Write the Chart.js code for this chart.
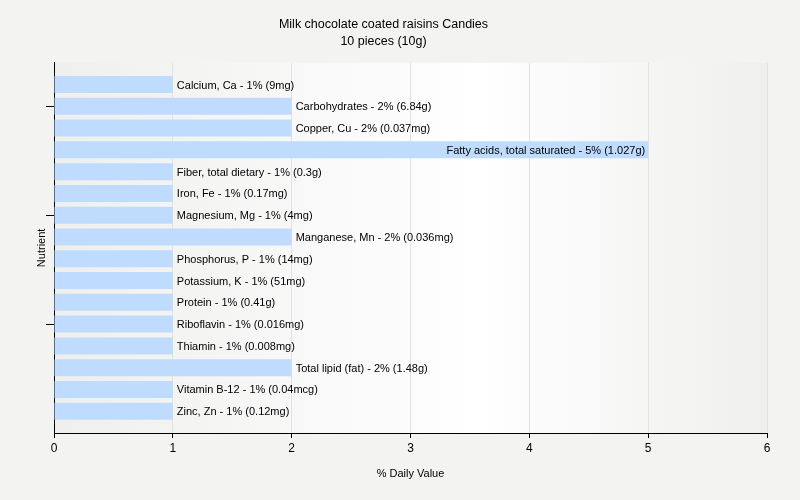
<!DOCTYPE html>
<html>
<head>
<meta charset="utf-8">
<script src="https://cdn.jsdelivr.net/npm/chart.js@4/dist/chart.umd.min.js"></script>
<style>
html,body{margin:0;padding:0;background:#f3f3f2;}
#wrap{width:800px;height:500px;}
</style>
</head>
<body>
<div id="wrap"><canvas id="c" width="800" height="500"></canvas></div>
<script>
const categories = ["Calcium, Ca","Carbohydrates","Copper, Cu","Fatty acids, total saturated","Fiber, total dietary","Iron, Fe","Magnesium, Mg","Manganese, Mn","Phosphorus, P","Potassium, K","Protein","Riboflavin","Thiamin","Total lipid (fat)","Vitamin B-12","Zinc, Zn"];
const values = [1,2,2,5,1,1,1,2,1,1,1,1,1,2,1,1];
const amounts = ["9mg","6.84g","0.037mg","1.027g","0.3g","0.17mg","4mg","0.036mg","14mg","51mg","0.41g","0.016mg","0.008mg","1.48g","0.04mcg","0.12mg"];
const xTicks = [0,1,2,3,4,5,6];
const titleLines = ["Milk chocolate coated raisins Candies","10 pieces (10g)"];

const FONT = "'Liberation Sans', Arial, sans-serif";
Chart.defaults.font.family = FONT;
Chart.defaults.color = "#000";

const bgPlugin = {
  id: 'bg',
  beforeDraw(chart) {
    const {ctx, chartArea: a} = chart;
    ctx.save();
    ctx.fillStyle = '#f3f3f2';
    ctx.fillRect(0, 0, chart.width, chart.height);
    const g = ctx.createLinearGradient(a.left, 0, a.right, 0);
    g.addColorStop(0, '#efefee');
    g.addColorStop(0.6, '#ffffff');
    g.addColorStop(1, '#efefee');
    ctx.fillStyle = g;
    ctx.fillRect(a.left, a.top, a.right - a.left, a.bottom - a.top);
    ctx.restore();
  }
};

const labelPlugin = {
  id: 'barLabels',
  afterDatasetsDraw(chart) {
    const {ctx, chartArea: a} = chart;
    const meta = chart.getDatasetMeta(0);
    ctx.save();
    ctx.font = "11px " + FONT;
    ctx.fillStyle = '#000';
    ctx.textBaseline = 'middle';
    meta.data.forEach((bar, i) => {
      const txt = categories[i] + " - " + values[i] + "% (" + amounts[i] + ")";
      const w = ctx.measureText(txt).width;
      if (bar.x + 4 + w > a.right) {
        ctx.textAlign = 'right';
        ctx.fillText(txt, bar.x - 3, bar.y + 1);
      } else {
        ctx.textAlign = 'left';
        ctx.fillText(txt, bar.x + 4, bar.y + 1);
      }
    });
    ctx.restore();
  }
};

new Chart(document.getElementById('c'), {
  type: 'bar',
  data: {
    labels: categories,
    datasets: [{
      data: values,
      backgroundColor: '#bfdcff',
      borderWidth: 0,
      categoryPercentage: 1.0,
      barPercentage: 0.78
    }]
  },
  options: {
    indexAxis: 'y',
    responsive: false,
    animation: false,
    layout: { padding: { left: 0, right: 33, top: 0, bottom: 0 } },
    plugins: {
      legend: { display: false },
      tooltip: { enabled: false },
      title: {
        display: true,
        text: titleLines,
        color: '#000',
        font: { size: 12.5, weight: 'normal', family: FONT, lineHeight: 1.35 },
        padding: { top: 16, bottom: 13 }
      }
    },
    scales: {
      x: {
        type: 'linear',
        min: 0, max: 6,
        afterBuildTicks(scale) { scale.ticks = xTicks.map(v => ({value: v})); },
        afterFit(scale) { scale.height = 67; },
        ticks: { font: { size: 12, family: FONT }, color: '#000', padding: 3 },
        grid: { color: '#e2e2e2', tickColor: '#000', tickLength: 5, drawOnChartArea: true },
        border: { color: '#000', width: 1 },
        title: { display: true, text: '% Daily Value', color: '#000', font: { size: 11, family: FONT }, padding: { top: 0, bottom: 19 } }
      },
      y: {
        type: 'category',
        offset: true,
        afterBuildTicks(scale) {
          scale.ticks = scale.ticks.filter((t, i) => i % 5 === 1);
          // extra half-category margin at both ends of the axis
          scale._startValue = -1;
          scale._valueRange = categories.length + 1;
        },
        afterFit(scale) { scale.width = 54; },
        ticks: { display: true, autoSkip: false, callback: () => '' },
        grid: { display: true, offset: false, drawOnChartArea: false, tickColor: '#000', tickLength: 8 },
        border: { color: '#000', width: 1 },
        title: { display: true, text: 'Nutrient', color: '#000', font: { size: 11, family: FONT }, padding: { top: 35, bottom: 0 } }
      }
    }
  },
  plugins: [bgPlugin, labelPlugin]
});
</script>
</body>
</html>
